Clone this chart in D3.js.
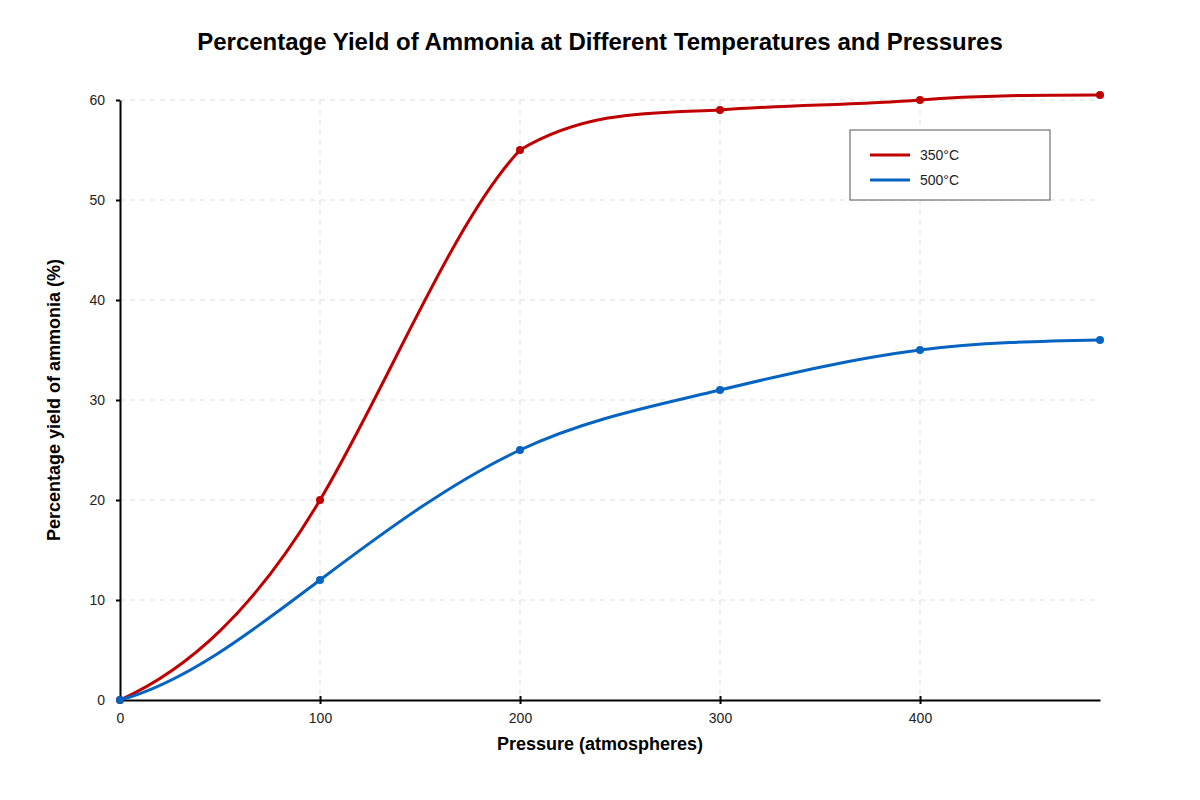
<!DOCTYPE html>
<html>
<head>
<meta charset="utf-8">
<script src="https://cdn.jsdelivr.net/npm/d3@7"></script>
<style>
  body { margin: 0; background: #fff; }
  text { font-family: "Liberation Sans", Arial, sans-serif; }
</style>
</head>
<body>
<div id="chart-area"></div>
<script>
const pressures = [0, 100, 200, 300, 400, 490];
const yield350 = [0, 20, 55, 59, 60, 60.5];
const yield500 = [0, 12, 25, 31, 35, 36];
const xTicks = [0, 100, 200, 300, 400];
const yTicks = [0, 10, 20, 30, 40, 50, 60];

const seriesList = [
    { name: "350°C", color: "#c00000", values: yield350 },
    { name: "500°C", color: "#0563c1", values: yield500 }
];

// cubic spline, eased start, each segment kept from overshooting
function curveSmooth(context) {
    return {
        areaStart() {},
        areaEnd() {},
        lineStart() { this._xs = []; this._ys = []; },
        point(x, y) { this._xs.push(+x); this._ys.push(+y); },
        lineEnd() {
            const xs = this._xs, ys = this._ys, n = xs.length;
            if (!n) return;
            context.moveTo(xs[0], ys[0]);
            if (n < 3) { for (let i = 1; i < n; i++) context.lineTo(xs[i], ys[i]); return; }
            const h = [], s = [];
            for (let i = 0; i < n - 1; i++) {
                h.push(xs[i + 1] - xs[i]);
                s.push((ys[i + 1] - ys[i]) / h[i]);
            }
            // tridiagonal system for the slopes
            const a = new Array(n).fill(0), b = new Array(n).fill(0),
                  c = new Array(n).fill(0), r = new Array(n).fill(0);
            b[0] = 1; r[0] = 0.45 * s[0];
            for (let i = 1; i < n - 1; i++) {
                a[i] = h[i];
                b[i] = 2 * (h[i - 1] + h[i]);
                c[i] = h[i - 1];
                r[i] = 3 * (h[i] * s[i - 1] + h[i - 1] * s[i]);
            }
            a[n - 1] = 1; b[n - 1] = 2; r[n - 1] = 3 * s[n - 2];
            for (let i = 1; i < n; i++) {
                const w = a[i] / b[i - 1];
                b[i] -= w * c[i - 1];
                r[i] -= w * r[i - 1];
            }
            const m = new Array(n);
            m[n - 1] = r[n - 1] / b[n - 1];
            for (let i = n - 2; i >= 0; i--) m[i] = (r[i] - c[i] * m[i + 1]) / b[i];

            // don't let a tangent fall below the monotone (harmonic) estimate
            for (let i = 1; i < n - 1; i++) {
                const s0 = s[i - 1], s1 = s[i];
                if (s0 * s1 > 0) {
                    const hm = 2 * s0 * s1 / (s0 + s1);
                    if (Math.abs(m[i]) < Math.abs(hm) || m[i] * hm < 0) m[i] = hm;
                }
            }

            for (let i = 0; i < n - 1; i++) {
                let m0 = m[i], m1 = m[i + 1];
                const si = s[i];
                if (si === 0) { m0 = 0; m1 = 0; }
                else {
                    if (m0 / si < 0) m0 = 0;
                    if (m1 / si < 0) m1 = 0;
                    const al = m0 / si, be = m1 / si, q = al * al + be * be;
                    if (q > 9) {
                        const tau = 3 / Math.sqrt(q);
                        m0 = tau * al * si;
                        m1 = tau * be * si;
                    }
                }
                const dx = h[i] / 3;
                context.bezierCurveTo(
                    xs[i] + dx, ys[i] + m0 * dx,
                    xs[i + 1] - dx, ys[i + 1] - m1 * dx,
                    xs[i + 1], ys[i + 1]
                );
            }
        }
    };
}

const svgWidth = 1200;
const svgHeight = 800;
const margin = { top: 100, right: 100, bottom: 100, left: 120 };
const width = svgWidth - margin.left - margin.right;
const height = svgHeight - margin.top - margin.bottom;

const root = d3.select("#chart-area")
    .append("svg")
    .attr("width", svgWidth)
    .attr("height", svgHeight);

root.append("text")
    .attr("x", svgWidth / 2)
    .attr("y", 50)
    .attr("text-anchor", "middle")
    .style("font-size", "24px")
    .style("font-weight", "bold")
    .text("Percentage Yield of Ammonia at Different Temperatures and Pressures");

const svg = root.append("g")
    .attr("transform", `translate(${margin.left},${margin.top})`);

const xScale = d3.scaleLinear().domain([0, 490]).range([0, width]);
const yScale = d3.scaleLinear().domain([0, 60]).range([height, 0]);

// grid
svg.append("g")
    .selectAll("line")
    .data(yTicks.filter(d => d > 0))
    .join("line")
    .attr("x1", 0)
    .attr("x2", width - 5)
    .attr("y1", d => yScale(d))
    .attr("y2", d => yScale(d))
    .attr("stroke", "#ddd")
    .attr("stroke-dasharray", "5,5");

svg.append("g")
    .selectAll("line")
    .data(xTicks.filter(d => d > 0))
    .join("line")
    .attr("x1", d => xScale(d))
    .attr("x2", d => xScale(d))
    .attr("y1", 0)
    .attr("y2", height)
    .attr("stroke", "#ddd")
    .attr("stroke-dasharray", "5,5");

// axes
const xAxisGroup = svg.append("g")
    .attr("transform", `translate(0,${height})`)
    .call(d3.axisBottom(xScale).tickValues(xTicks).tickSize(4).tickSizeOuter(0));
const yAxisGroup = svg.append("g")
    .call(d3.axisLeft(yScale).tickValues(yTicks).tickSize(4).tickSizeOuter(0));

[xAxisGroup, yAxisGroup].forEach(g => {
    g.select(".domain").attr("stroke", "#000").attr("stroke-width", 2);
    g.selectAll(".tick line").attr("stroke", "#000").attr("stroke-width", 2);
    g.selectAll("text")
        .style("font-size", "14px")
        .style("font-family", "'Liberation Sans', Arial, sans-serif")
        .attr("fill", "#222");
});
xAxisGroup.selectAll(".tick line").attr("y1", -4);
xAxisGroup.selectAll("text").attr("dy", "0.71em").attr("y", 13);
yAxisGroup.selectAll("text").attr("x", -15);

root.append("text")
    .attr("x", svgWidth / 2)
    .attr("y", margin.top + height + 50)
    .attr("text-anchor", "middle")
    .style("font-size", "18px")
    .style("font-weight", "bold")
    .text("Pressure (atmospheres)");

svg.append("text")
    .attr("transform", "rotate(-90)")
    .attr("x", -height / 2)
    .attr("y", -60)
    .attr("text-anchor", "middle")
    .style("font-size", "18px")
    .style("font-weight", "bold")
    .text("Percentage yield of ammonia (%)");

// lines
const line = d3.line()
    .x(d => xScale(d[0]))
    .y(d => yScale(d[1]))
    .curve(curveSmooth);

seriesList.forEach(s => {
    const pts = pressures.map((p, i) => [p, s.values[i]]);
    svg.append("path")
        .datum(pts)
        .attr("fill", "none")
        .attr("stroke", s.color)
        .attr("stroke-width", 3)
        .attr("d", line);
    svg.append("g")
        .selectAll("circle")
        .data(pts)
        .join("circle")
        .attr("cx", d => xScale(d[0]))
        .attr("cy", d => yScale(d[1]))
        .attr("r", 4)
        .attr("fill", s.color);
});

// legend
const legend = svg.append("g")
    .attr("transform", `translate(${width - 250},30)`);
legend.append("rect")
    .attr("width", 200)
    .attr("height", 70)
    .attr("fill", "#fff")
    .attr("stroke", "#555")
    .attr("stroke-width", 1);
seriesList.forEach((s, i) => {
    legend.append("line")
        .attr("x1", 20)
        .attr("x2", 60)
        .attr("y1", 25 + i * 25)
        .attr("y2", 25 + i * 25)
        .attr("stroke", s.color)
        .attr("stroke-width", 3);
    legend.append("text")
        .attr("x", 70)
        .attr("y", 25 + i * 25)
        .attr("dy", "0.35em")
        .style("font-size", "14px")
        .attr("fill", "#222")
        .text(s.name);
});
</script>
</body>
</html>
